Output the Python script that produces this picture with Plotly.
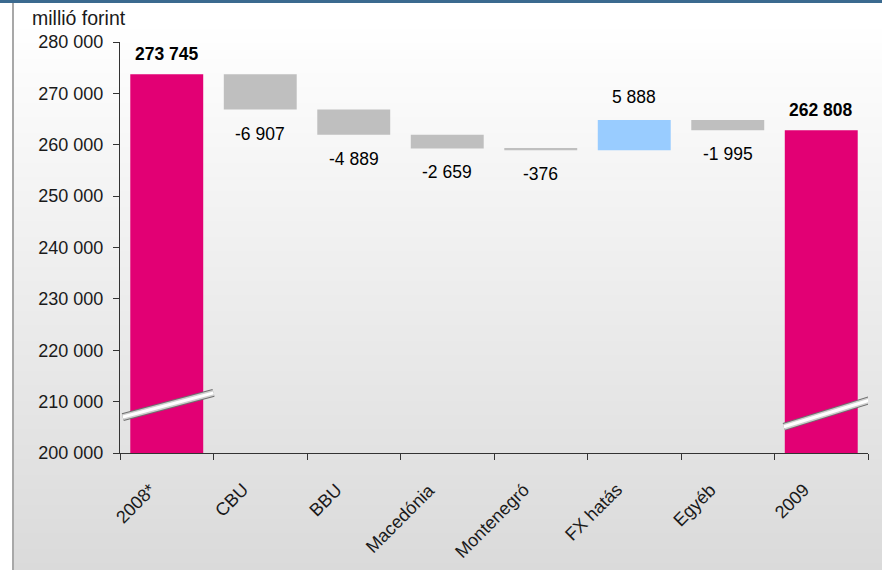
import plotly.graph_objects as go

categories = ["2008*", "CBU", "BBU", "Macedónia", "Montenegró", "FX hatás", "Egyéb", "2009"]
values = [273745, -6907, -4889, -2659, -376, 5888, -1995, 262808]
measures = ["absolute", "relative", "relative", "relative", "relative", "relative", "relative", "total"]
y_ticks = [200000, 210000, 220000, 230000, 240000, 250000, 260000, 270000, 280000]

FONT = "Liberation Sans, Arial, sans-serif"
W, H = 882, 570
ML, MR, MT, MB = 120, 14, 42, 117
PH = H - MT - MB
PW = W - ML - MR
pos = list(range(len(categories)))


def fmt(v):
    return f"{v:,}".replace(",", " ")


fig = go.Figure(go.Waterfall(
    x=pos, y=values, measure=measures,
    width=0.78,
    totals=dict(marker=dict(color="#E20074")),
    decreasing=dict(marker=dict(color="#BFBFBF")),
    increasing=dict(marker=dict(color="#99CCFF")),
    connector=dict(visible=False),
    hoverinfo="y",
))

# value labels
level = 0
for i, (v, m) in enumerate(zip(values, measures)):
    if m == "absolute":
        level = v
        txt, y, dy = "<b>" + fmt(v) + "</b>", v, 20
    elif m == "total":
        txt, y, dy = "<b>" + fmt(v) + "</b>", level, 20
    else:
        level = level + v
        txt, y, dy = fmt(v), level, (23 if v >= 0 else -24)
    fig.add_annotation(x=i, y=y, text=txt, yshift=dy, xref="x", yref="y",
                       showarrow=False, yanchor="middle",
                       font=dict(family=FONT, size=17.5, color="#000"))

fig.add_annotation(text="millió forint", xref="paper", yref="paper",
                   x=(30 - ML) / PW, y=1 + (MT - 18) / PH,
                   xanchor="left", yanchor="middle", showarrow=False,
                   font=dict(family=FONT, size=19.5, color="#1a1a1a"))

# background gradient (thin stripes)
shapes = []
y_start = 3
n = (H - y_start) // 2 + 1
for k in range(n):
    p0 = y_start + 2 * k
    p1 = p0 + 2.5
    t = max(0.0, (p0 - 20) / (H - 20))
    g = int(round(255 - t * (255 - 218)))
    shapes.append(dict(type="rect", xref="paper", yref="paper",
                       x0=(14 - ML) / PW, x1=1 + MR / PW + 0.01,
                       y0=1 - (p1 - MT) / PH, y1=1 - (p0 - MT) / PH,
                       fillcolor=f"rgb({g},{g},{g})", line=dict(width=0), layer="below"))
# left border and top bar
shapes.append(dict(type="line", xref="paper", yref="paper",
                   x0=(13 - ML) / PW, x1=(13 - ML) / PW,
                   y0=-MB / PH - 0.01, y1=1 + (MT - 3) / PH,
                   line=dict(color="#a8a8a8", width=2), layer="below"))
shapes.append(dict(type="rect", xref="paper", yref="paper",
                   x0=-ML / PW - 0.01, x1=1 + MR / PW + 0.01,
                   y0=1 + (MT - 3) / PH, y1=1 + MT / PH + 0.01,
                   fillcolor="#3b6a8f", line=dict(width=0), layer="below"))

# axis break marks
for x0, y0, x1, y1 in [(-0.47, 207000, 0.5, 211700), (6.6, 205100, 7.52, 210300)]:
    for w, col in [(8, "#707070"), (6, "#cfcfcf"), (3, "#ffffff")]:
        shapes.append(dict(type="line", xref="x", yref="y", x0=x0, y0=y0, x1=x1, y1=y1,
                           line=dict(color=col, width=w), layer="above"))

fig.update_layout(
    width=W, height=H,
    margin=dict(l=ML, r=MR, t=MT, b=MB, autoexpand=False),
    paper_bgcolor="white",
    plot_bgcolor="rgba(0,0,0,0)",
    separators=", ",
    showlegend=False,
    shapes=shapes,
    font=dict(family=FONT, size=18, color="#1a1a1a"),
)
fig.update_yaxes(range=[200000, 280000], tickvals=y_ticks, tickformat=",d",
                 showgrid=False, zeroline=False, showline=True, linecolor="#333",
                 ticks="outside", ticklen=6, tickcolor="#333",
                 ticklabelstandoff=6,
                 tickfont=dict(family=FONT, size=18, color="#1a1a1a"))
# ticks on category boundaries, labels at the centres
fig.update_xaxes(range=[-0.5, len(categories) - 0.5],
                 tickvals=[p - 0.5 for p in pos] + [len(pos) - 0.5], ticktext=[""] * (len(pos) + 1),
                 showgrid=False, zeroline=False, showline=True, linecolor="#333",
                 ticks="outside", ticklen=6, tickcolor="#333")
for i, c in enumerate(categories):
    fig.add_annotation(x=i, y=0, xref="x", yref="paper", text=c, textangle=-45,
                       xanchor="right", yanchor="top", showarrow=False,
                       xshift=-5, yshift=-24,
                       font=dict(family=FONT, size=18, color="#1a1a1a"))

fig.write_html("out.html", config={"displayModeBar": False},
               post_script="document.body.style.margin='0';")
